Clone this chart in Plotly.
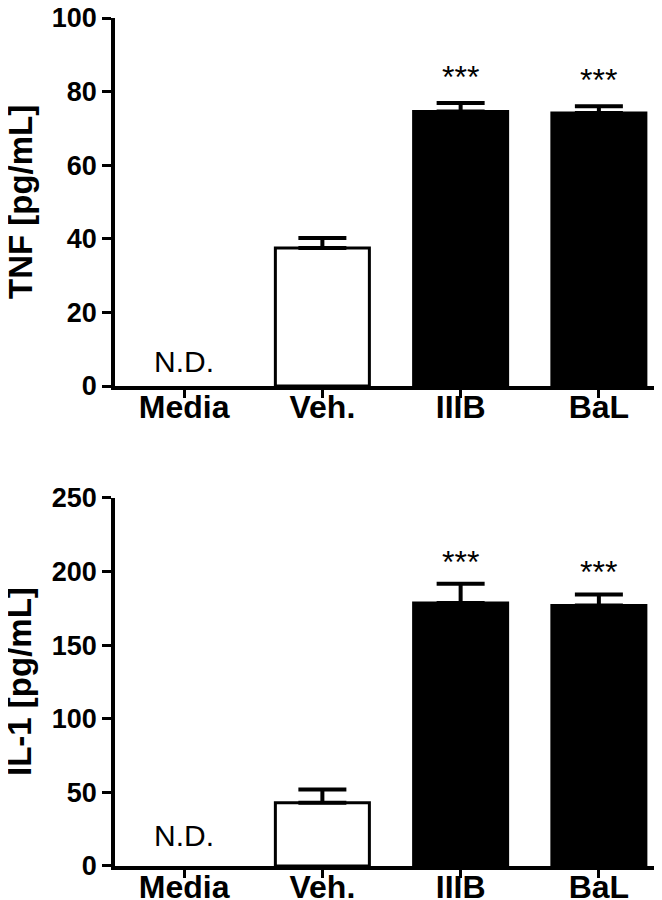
import plotly.graph_objects as go
from plotly.subplots import make_subplots

# dados (Media = N.D., sem barra)
grupos = ['Media', 'Veh.', 'IIIB', 'BaL']
tnf_media = [None, 37.5, 74.6, 74.2]
tnf_erro = [0, 2.7, 2.3, 1.8]
il1_media = [None, 43, 178.7, 177]
il1_erro = [0, 9, 13, 7.5]
cores = ['white', 'white', 'black', 'black']
signif = ['', '', '***', '***']
titulos_y = ['TNF [pg/mL]', 'IL-1 [pg/mL]']

fonte = 'Liberation Sans, Arial, sans-serif'

fig = make_subplots(rows=2, cols=1)


def adiciona_painel(media, erro, linha, desloc):
    fig.add_trace(go.Bar(
        x=grupos, y=media,
        marker=dict(color=cores, line=dict(color='black', width=3)),
        width=0.68,
        error_y=dict(type='data', array=erro, arrayminus=[0] * len(erro), symmetric=False,
                     color='black', thickness=4, width=24),
        showlegend=False,
    ), row=linha, col=1)

    # asteriscos de significância
    for g, m, e, s in zip(grupos, media, erro, signif):
        if s:
            fig.add_annotation(x=g, y=m + e, text=s, showarrow=False, yanchor='middle',
                               yshift=desloc, font=dict(family=fonte, size=32, color='black'),
                               xref='x' if linha == 1 else 'x2',
                               yref='y' if linha == 1 else 'y2')


adiciona_painel(tnf_media, tnf_erro, 1, 26)
adiciona_painel(il1_media, il1_erro, 2, 22)

# N.D. para Media
fig.add_annotation(x='Media', y=6.8, text='N.D.', showarrow=False, xref='x', yref='y',
                   font=dict(family=fonte, size=30, color='black'))
fig.add_annotation(x='Media', y=20.5, text='N.D.', showarrow=False, xref='x2', yref='y2',
                   font=dict(family=fonte, size=30, color='black'))

# títulos do eixo y como anotações, encostados à esquerda
for titulo, yref in zip(titulos_y, ['y domain', 'y2 domain']):
    fig.add_annotation(x=0, xref='paper', xshift=-95, xanchor='center',
                       y=0.5, yref=yref, yanchor='middle', borderpad=0,
                       text=titulo, textangle=-90, showarrow=False,
                       font=dict(family=fonte, size=33, color='black', weight='bold'))

eixo_x = dict(
    range=[-0.5, 3.5], showline=True, linecolor='black', linewidth=3.5,
    ticks='outside', ticklen=8, tickwidth=3, tickcolor='black',
    tickfont=dict(family=fonte, size=32, color='black', weight='bold'),
    ticklabelstandoff=-18, ticklabeloverflow='allow',
    showgrid=False, zeroline=False, automargin=False,
)
eixo_y = dict(
    showline=True, linecolor='black', linewidth=3.5,
    ticks='outside', ticklen=9, tickwidth=3, tickcolor='black',
    tickfont=dict(family=fonte, size=27, color='black', weight='bold'),
    ticklabeloverflow='allow',
    showgrid=False, zeroline=False, automargin=False,
)

fig.update_layout(
    width=662, height=900,
    margin=dict(l=107, r=2, t=10, b=42),
    plot_bgcolor='white', paper_bgcolor='white',
    xaxis=dict(eixo_x, domain=[0, 1], anchor='y'),
    xaxis2=dict(eixo_x, domain=[0, 1], anchor='y2'),
    yaxis=dict(eixo_y, domain=[0.566, 1.0], range=[0, 100], tickvals=[0, 20, 40, 60, 80, 100]),
    yaxis2=dict(eixo_y, domain=[0, 0.434], range=[0, 250], tickvals=[0, 50, 100, 150, 200, 250]),
)

fig.write_html("out.html")
